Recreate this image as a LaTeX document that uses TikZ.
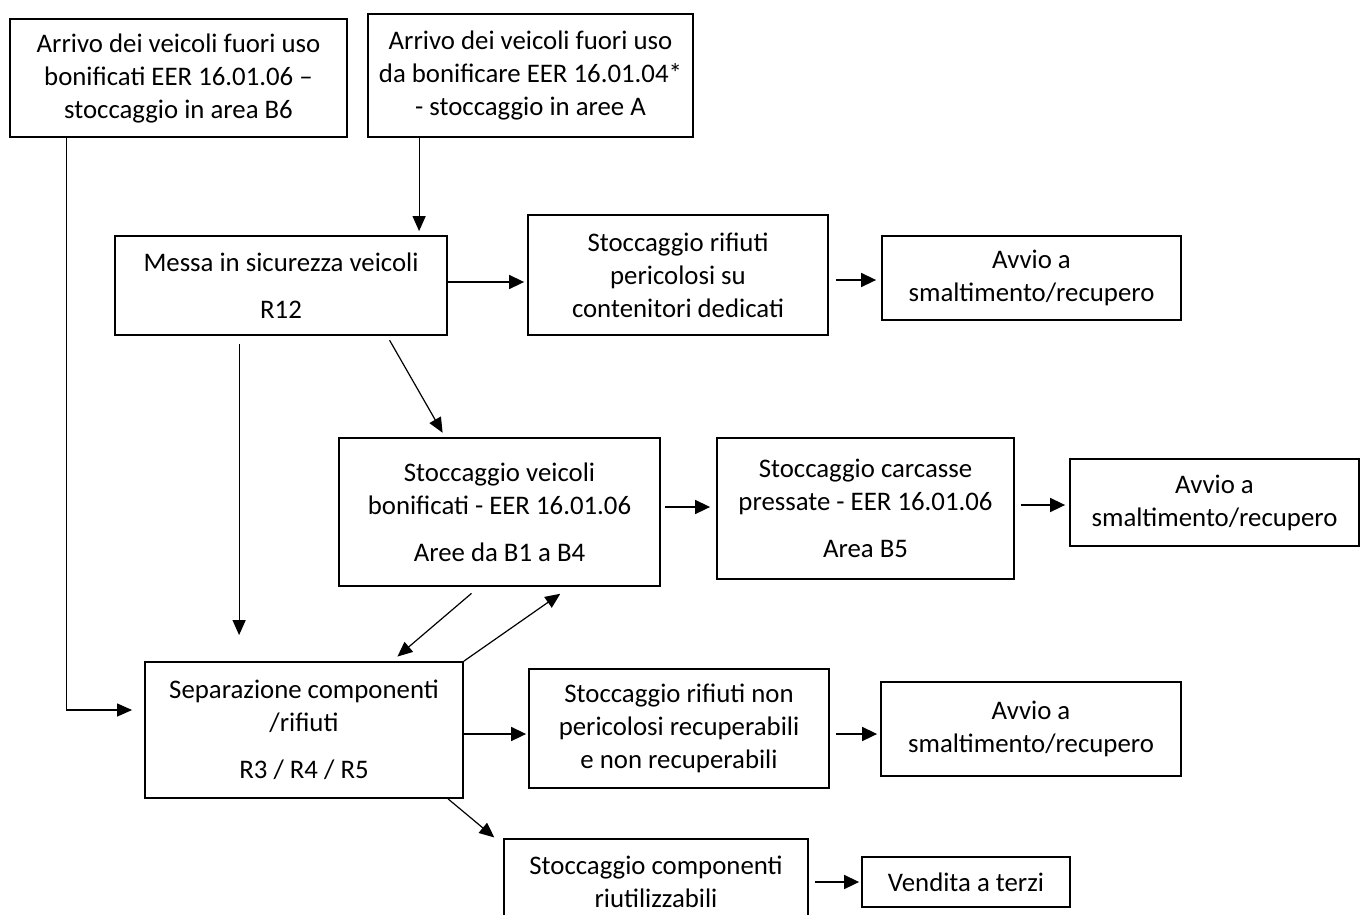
\documentclass[tikz,border=0pt]{standalone}
\usepackage{fontspec}
\setmainfont{Carlito}
\usetikzlibrary{arrows.meta,calc}
\begin{document}
\begin{tikzpicture}[x=1pt,y=-1pt,
  box/.style={draw,line width=1.8pt,inner sep=0pt,align=center,
    font=\fontsize{26.8}{33}\selectfont},
  arr/.style={-{Triangle[length=15pt,width=14pt]},line width=1.6pt},
  thin/.style={-{Triangle[length=15pt,width=13pt]},line width=1.2pt}]
\clip (0,0) rectangle (1361,914);
\fill[white] (0,0) rectangle (1361,914);
% boxes
\node[box,minimum width=337pt,minimum height=118pt] (b6) at (178.5,78) {Arrivo dei veicoli fuori uso\\bonificati EER 16.01.06 –\\stoccaggio in area B6};
\node[box,minimum width=325pt,minimum height=123pt] (arrA) at (530.5,75.5) {Arrivo dei veicoli fuori uso\\da bonificare EER 16.01.04*\\- stoccaggio in aree A};
\node[box,minimum width=332pt,minimum height=99pt] (messa) at (281,285.5) {Messa in sicurezza veicoli\\[14pt]R12};
\node[box,minimum width=300pt,minimum height=120pt] (peric) at (678,275) {Stoccaggio rifiuti\\pericolosi su\\contenitori dedicati};
\node[box,minimum width=299pt,minimum height=84pt] (avvio1) at (1031.5,278) {Avvio a\\smaltimento/recupero};
\node[box,minimum width=321pt,minimum height=148pt] (veic) at (499.5,512) {Stoccaggio veicoli\\bonificati - EER 16.01.06\\[14pt]Aree da B1 a B4};
\node[box,minimum width=297pt,minimum height=141pt] (carc) at (865.5,508.5) {Stoccaggio carcasse\\pressate - EER 16.01.06\\[14pt]Area B5};
\node[box,minimum width=289pt,minimum height=87pt] (avvio2) at (1214.5,502.5) {Avvio a\\smaltimento/recupero};
\node[box,minimum width=318pt,minimum height=136pt] (sep) at (304,730) {Separazione componenti\\/rifiuti\\[14pt]R3 / R4 / R5};
\node[box,minimum width=300pt,minimum height=119pt] (nonp) at (679,728.5) {Stoccaggio rifiuti non\\pericolosi recuperabili\\e non recuperabili};
\node[box,minimum width=300pt,minimum height=94pt] (avvio3) at (1031,729) {Avvio a\\smaltimento/recupero};
\node[box,minimum width=304pt,minimum height=85pt] (comp) at (656,881.5) {Stoccaggio componenti\\riutilizzabili};
\node[box,minimum width=208pt,minimum height=50pt] (vend) at (966,882) {Vendita a terzi};
% connectors
\draw[thin,shorten >=12pt] ($(b6.south west)+(57,0)$) |- ($(sep.west)+(0,-20)$);
\draw[thin,shorten >=4pt] ($(arrA.south west)+(52,0)$) -- ($(messa.north west)+(305,0)$);
\draw[arr,shorten >=3pt] (messa.east |- 0,282) -- (peric.west |- 0,282);
\draw[arr,shorten <=7pt,shorten >=5pt] (peric.east |- 0,280) -- (avvio1.west |- 0,280);
\draw[thin,shorten <=8pt,shorten >=26pt] ($(messa.south west)+(125,0)$) -- ($(sep.north west)+(95,0)$);
\draw[thin,shorten <=5pt,shorten >=5pt] ($(messa.south west)+(273,0)$) -- ($(veic.north west)+(107,0)$);
\draw[arr,shorten <=4pt,shorten >=6pt] (veic.east |- 0,507) -- (carc.west |- 0,507);
\draw[arr,shorten <=6pt,shorten >=4pt] (carc.east |- 0,505) -- (avvio2.west |- 0,505);
\draw[thin,shorten <=10pt,shorten >=7pt] ($(veic.south west)+(141,0)$) -- ($(sep.north west)+(248,0)$);
\draw[thin,shorten >=12pt] (sep.north east) -- ($(veic.south west)+(232,0)$);
\draw[arr,shorten >=2pt] (sep.east |- 0,734) -- (nonp.west |- 0,734);
\draw[arr,shorten <=6pt,shorten >=3pt] (nonp.east |- 0,734) -- (avvio3.west |- 0,734);
\draw[thin,shorten >=1pt] ($(sep.south west)+(304,0)$) -- ($(comp.north west)+(-8,0)$);
\draw[arr,shorten <=6pt,shorten >=2pt] (comp.east |- 0,882) -- (vend.west |- 0,882);
\end{tikzpicture}
\end{document}
